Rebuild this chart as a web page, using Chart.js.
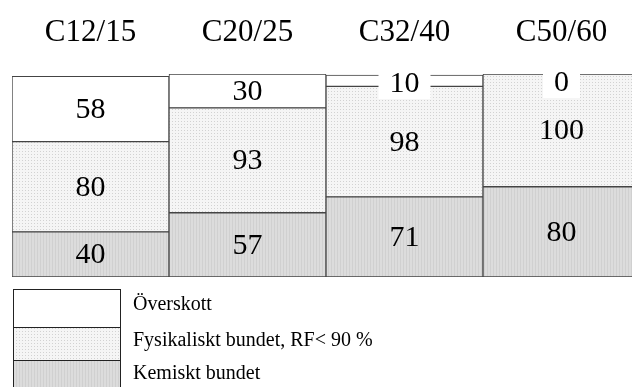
<!DOCTYPE html>
<html>
<head>
<meta charset="utf-8">
<script src="https://cdn.jsdelivr.net/npm/chart.js@4/dist/chart.umd.min.js"></script>
<style>
  html, body { margin: 0; padding: 0; background: #fff; overflow: hidden; }
  #chart { display: block; }
</style>
</head>
<body>
<canvas id="chart" width="640" height="387"></canvas>
<script>
const categories = ['C12/15', 'C20/25', 'C32/40', 'C50/60'];
const kemiskt = [40, 57, 71, 80];
const fysikaliskt = [80, 93, 98, 100];
const overskott = [58, 30, 10, 0];
const seriesNames = ['Kemiskt bundet', 'Fysikaliskt bundet, RF< 90 %', 'Överskott'];

const serif = '"Liberation Serif", "Times New Roman", serif';

// small hatch patterns like the grey print fills
function makePattern(draw, w, h) {
  const c = document.createElement('canvas');
  c.width = w; c.height = h;
  draw(c.getContext('2d'));
  return c.getContext('2d').createPattern(c, 'repeat');
}
const dotFill = makePattern(g => {
  g.fillStyle = '#f5f5f5'; g.fillRect(0, 0, 3, 3);
  g.fillStyle = '#d2d2d2'; g.fillRect(1, 1, 1, 1);
}, 3, 3);
const lineFill = makePattern(g => {
  g.fillStyle = '#dcdcdc'; g.fillRect(0, 0, 3, 1);
  g.fillStyle = '#d0d0d0'; g.fillRect(1, 0, 1, 1);
}, 3, 1);
const fills = [lineFill, dotFill, '#ffffff'];

const valueLabels = {
  id: 'valueLabels',
  afterDatasetsDraw(chart) {
    const ctx = chart.ctx;
    ctx.save();
    ctx.font = '30px ' + serif;
    ctx.textAlign = 'center';
    ctx.textBaseline = 'middle';
    chart.data.datasets.forEach((ds, i) => {
      chart.getDatasetMeta(i).data.forEach((bar, j) => {
        const v = ds.data[j];
        let y = (bar.y + bar.base) / 2;
        if (i === 2) {
          y = Math.max(y, bar.y + 8);
          const w = ctx.measureText(String(v)).width + 22;
          ctx.fillStyle = '#fff';
          ctx.fillRect(bar.x - w / 2, y - 14, w, 30);
        }
        ctx.fillStyle = '#000';
        ctx.fillText(String(v), bar.x, y + 1);
      });
    });
    ctx.restore();
  }
};

const blockLegend = {
  id: 'blockLegend',
  afterDraw(chart) {
    const ctx = chart.ctx;
    const x = 13, w = 107, top = 289, rowH = [38, 33, 33];
    ctx.save();
    let y = top;
    ctx.font = '20px ' + serif;
    ctx.textBaseline = 'middle';
    for (let k = 2; k >= 0; k--) {
      const h = rowH[2 - k];
      ctx.fillStyle = fills[k];
      ctx.fillRect(x, y, w, h);
      ctx.strokeStyle = '#222';
      ctx.lineWidth = 1;
      ctx.strokeRect(x + 0.5, y + 0.5, w, h);
      ctx.fillStyle = '#000';
      ctx.fillText(chart.data.datasets[k].label, 133, y + h / 2 - 3);
      y += h;
    }
    ctx.restore();
  }
};

new Chart(document.getElementById('chart'), {
  type: 'bar',
  data: {
    labels: categories,
    datasets: [kemiskt, fysikaliskt, overskott].map((d, i) => ({
      label: seriesNames[i],
      data: d,
      backgroundColor: fills[i],
      borderColor: '#444',
      borderWidth: 1,
      borderSkipped: false,
      barPercentage: 1,
      categoryPercentage: 1
    }))
  },
  options: {
    responsive: false,
    animation: false,
    layout: { padding: { top: 12, left: 12, right: 0, bottom: 110 } },
    plugins: {
      legend: { display: false },
      tooltip: { enabled: false }
    },
    scales: {
      x: {
        stacked: true,
        position: 'top',
        grid: { display: false },
        border: { display: false },
        ticks: { color: '#000', padding: 15, font: { family: serif, size: 31 } },
        afterFit(scale) { scale.height = 62; }
      },
      y: {
        stacked: true,
        display: false,
        min: 0,
        max: 180
      }
    }
  },
  plugins: [valueLabels, blockLegend]
});
</script>
</body>
</html>
